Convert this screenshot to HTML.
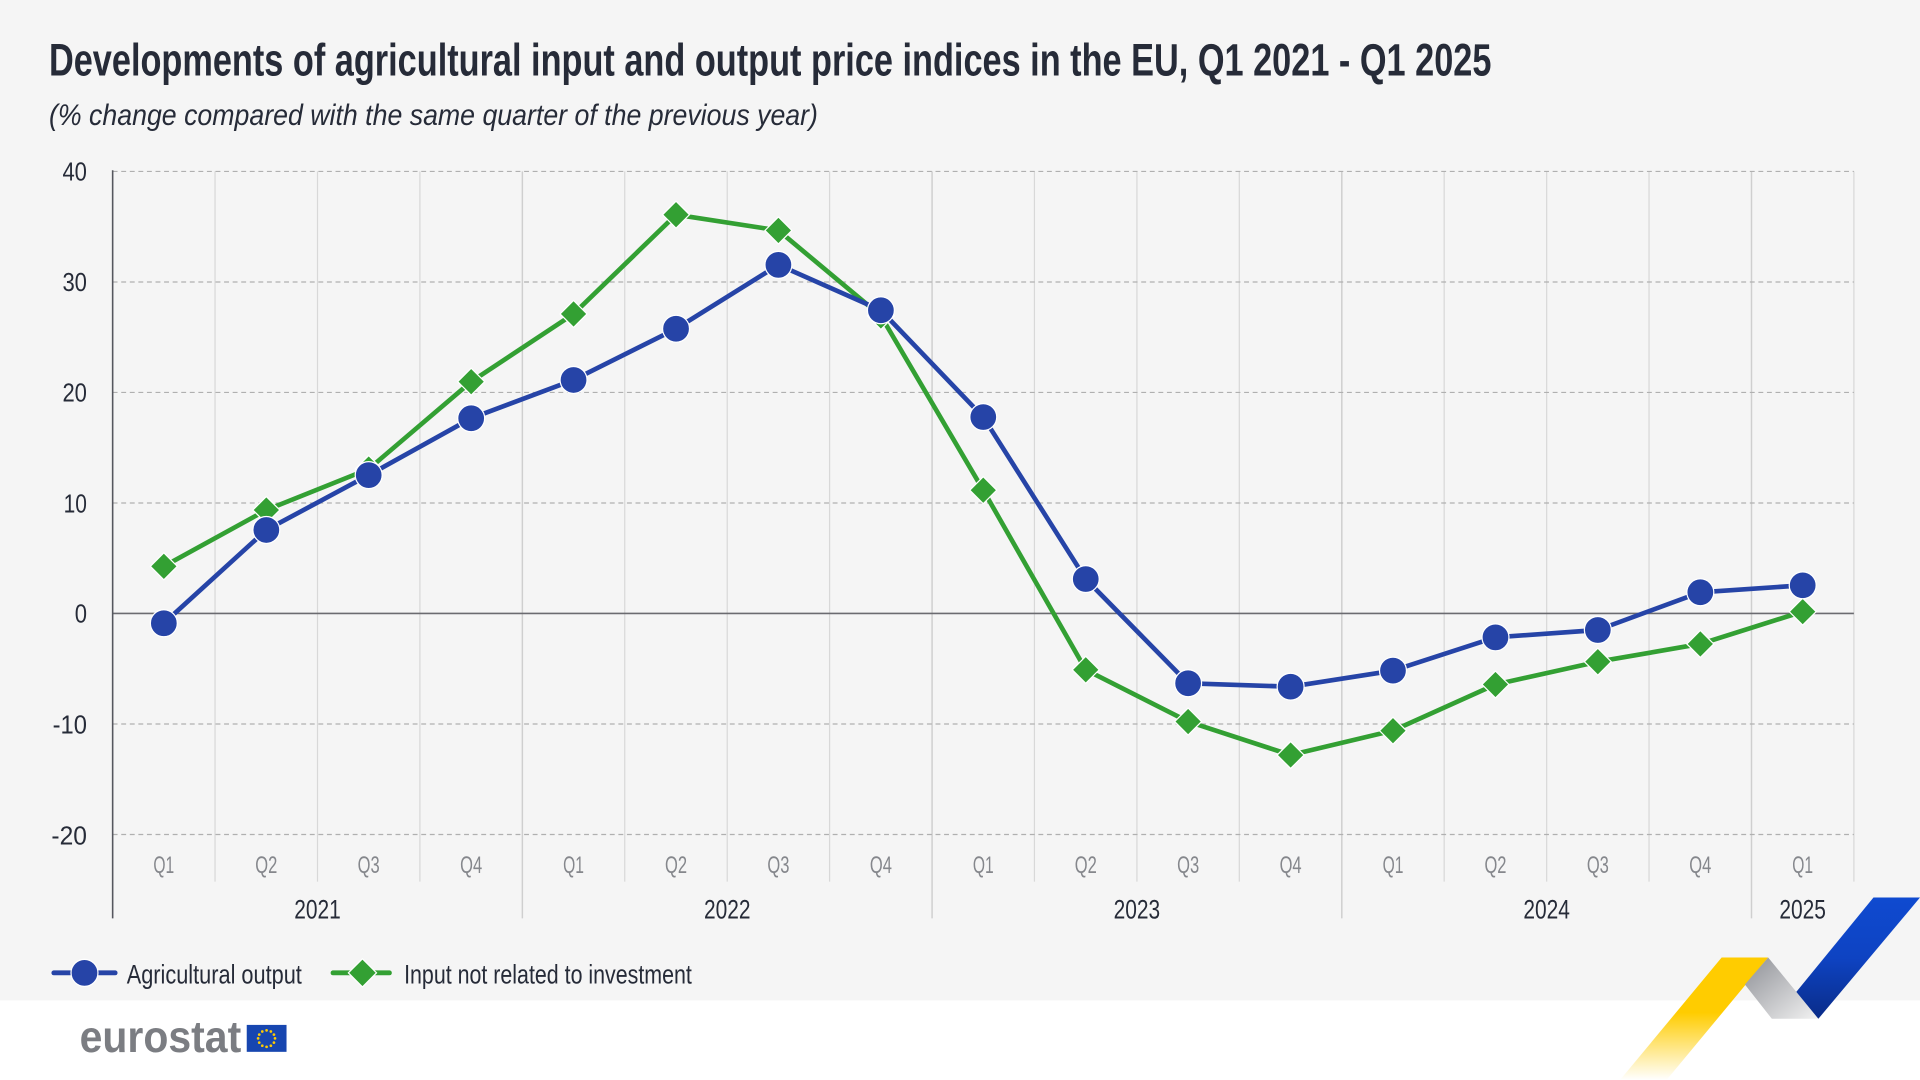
<!DOCTYPE html>
<html><head><meta charset="utf-8"><style>
html,body{margin:0;padding:0;background:#fff;}
svg{display:block;}
text{font-family:"Liberation Sans Narrow","Liberation Sans",sans-serif;}
</style></head><body>
<svg width="1920" height="1080" viewBox="0 0 1568 882" xmlns="http://www.w3.org/2000/svg">
<defs>
<linearGradient id="gy" x1="0" y1="0" x2="0" y2="1"><stop offset="0" stop-color="#ffcc00"/><stop offset="0.45" stop-color="#ffcc00"/><stop offset="1" stop-color="#ffffff"/></linearGradient>
<linearGradient id="gg" x1="0" y1="0" x2="1" y2="1"><stop offset="0" stop-color="#8e9096"/><stop offset="1" stop-color="#f2f2f2"/></linearGradient>
<linearGradient id="gb" x1="0" y1="0" x2="0" y2="1"><stop offset="0" stop-color="#0f4ad0"/><stop offset="0.5" stop-color="#0e43c2"/><stop offset="1" stop-color="#0a2c88"/></linearGradient>
</defs>
<rect x="0" y="0" width="1568" height="817" fill="#f5f5f5"/>
<rect x="0" y="817" width="1568" height="65" fill="#ffffff"/>

<text x="40" y="61.5" font-size="37" font-weight="bold" fill="#262b38" textLength="1178" lengthAdjust="spacingAndGlyphs">Developments of agricultural input and output price indices in the EU, Q1 2021 - Q1 2025</text>
<text x="40" y="102" font-size="24" font-style="italic" fill="#262b38" textLength="628" lengthAdjust="spacingAndGlyphs">(% change compared with the same quarter of the previous year)</text>

<!-- vertical gridlines -->
<g stroke="#d8d8d8" stroke-width="1">
<line x1="175.6" y1="140" x2="175.6" y2="720"/>
<line x1="259.3" y1="140" x2="259.3" y2="720"/>
<line x1="342.9" y1="140" x2="342.9" y2="720"/>
<line x1="510.2" y1="140" x2="510.2" y2="720"/>
<line x1="593.9" y1="140" x2="593.9" y2="720"/>
<line x1="677.5" y1="140" x2="677.5" y2="720"/>
<line x1="844.8" y1="140" x2="844.8" y2="720"/>
<line x1="928.5" y1="140" x2="928.5" y2="720"/>
<line x1="1012.1" y1="140" x2="1012.1" y2="720"/>
<line x1="1179.4" y1="140" x2="1179.4" y2="720"/>
<line x1="1263.1" y1="140" x2="1263.1" y2="720"/>
<line x1="1346.7" y1="140" x2="1346.7" y2="720"/>
<line x1="1514" y1="140" x2="1514" y2="720"/>
</g>
<g stroke="#cfcfcf" stroke-width="1.2">
<line x1="426.6" y1="140" x2="426.6" y2="750"/>
<line x1="761.2" y1="140" x2="761.2" y2="750"/>
<line x1="1095.8" y1="140" x2="1095.8" y2="750"/>
<line x1="1430.4" y1="140" x2="1430.4" y2="750"/>
</g>
<!-- horizontal gridlines -->
<g stroke="#b0b0b0" stroke-width="1" stroke-dasharray="4,3">
<line x1="92" y1="140" x2="1514" y2="140"/>
<line x1="92" y1="230.3" x2="1514" y2="230.3"/>
<line x1="92" y1="320.5" x2="1514" y2="320.5"/>
<line x1="92" y1="410.8" x2="1514" y2="410.8"/>
<line x1="92" y1="591.3" x2="1514" y2="591.3"/>
<line x1="92" y1="681.5" x2="1514" y2="681.5"/>
</g>
<line x1="92" y1="501" x2="1514" y2="501" stroke="#6b6b70" stroke-width="1.3"/>
<line x1="92" y1="139" x2="92" y2="750" stroke="#55575e" stroke-width="1.3"/>

<!-- y labels -->
<g font-size="21" fill="#262b38" text-anchor="end">
<text x="71" y="147.5" textLength="20" lengthAdjust="spacingAndGlyphs">40</text>
<text x="71" y="237.5" textLength="20" lengthAdjust="spacingAndGlyphs">30</text>
<text x="71" y="328" textLength="20" lengthAdjust="spacingAndGlyphs">20</text>
<text x="71" y="418.5" textLength="19" lengthAdjust="spacingAndGlyphs">10</text>
<text x="71" y="508.5" textLength="10" lengthAdjust="spacingAndGlyphs">0</text>
<text x="71" y="599" textLength="28" lengthAdjust="spacingAndGlyphs">-10</text>
<text x="71" y="689.5" textLength="29" lengthAdjust="spacingAndGlyphs">-20</text>
</g>
<!-- quarter labels -->
<g font-size="19.5" fill="#85878c" text-anchor="middle">
<text x="133.8" y="713" textLength="17" lengthAdjust="spacingAndGlyphs">Q1</text><text x="217.5" y="713" textLength="18" lengthAdjust="spacingAndGlyphs">Q2</text><text x="301.1" y="713" textLength="18" lengthAdjust="spacingAndGlyphs">Q3</text><text x="384.8" y="713" textLength="18" lengthAdjust="spacingAndGlyphs">Q4</text>
<text x="468.4" y="713" textLength="17" lengthAdjust="spacingAndGlyphs">Q1</text><text x="552.1" y="713" textLength="18" lengthAdjust="spacingAndGlyphs">Q2</text><text x="635.7" y="713" textLength="18" lengthAdjust="spacingAndGlyphs">Q3</text><text x="719.4" y="713" textLength="18" lengthAdjust="spacingAndGlyphs">Q4</text>
<text x="803.0" y="713" textLength="17" lengthAdjust="spacingAndGlyphs">Q1</text><text x="886.7" y="713" textLength="18" lengthAdjust="spacingAndGlyphs">Q2</text><text x="970.3" y="713" textLength="18" lengthAdjust="spacingAndGlyphs">Q3</text><text x="1054.0" y="713" textLength="18" lengthAdjust="spacingAndGlyphs">Q4</text>
<text x="1137.6" y="713" textLength="17" lengthAdjust="spacingAndGlyphs">Q1</text><text x="1221.3" y="713" textLength="18" lengthAdjust="spacingAndGlyphs">Q2</text><text x="1304.9" y="713" textLength="18" lengthAdjust="spacingAndGlyphs">Q3</text><text x="1388.6" y="713" textLength="18" lengthAdjust="spacingAndGlyphs">Q4</text>
<text x="1472.2" y="713" textLength="17" lengthAdjust="spacingAndGlyphs">Q1</text>
</g>
<g font-size="22" fill="#262b38" text-anchor="middle">
<text x="259.3" y="750" textLength="38" lengthAdjust="spacingAndGlyphs">2021</text>
<text x="593.9" y="750" textLength="38" lengthAdjust="spacingAndGlyphs">2022</text>
<text x="928.5" y="750" textLength="38" lengthAdjust="spacingAndGlyphs">2023</text>
<text x="1263.1" y="750" textLength="38" lengthAdjust="spacingAndGlyphs">2024</text>
<text x="1472.2" y="750" textLength="38" lengthAdjust="spacingAndGlyphs">2025</text>
</g>

<!-- green series -->
<polyline fill="none" stroke="#33a033" stroke-width="3.8" stroke-linejoin="round" points="133.8,462.5 217.5,416.5 301.1,383 384.8,311.7 468.4,256.4 552.1,175.3 635.7,188.2 719.4,258 803.0,400.3 886.7,547 970.3,589.3 1054.0,616.6 1137.6,596.7 1221.3,559 1304.9,540.4 1388.6,525.9 1472.2,499.5"/>
<g fill="#33a033" stroke="#ffffff" stroke-width="1">
<path d="M133.8,451.5 l11,11 -11,11 -11,-11z"/>
<path d="M217.5,405.5 l11,11 -11,11 -11,-11z"/>
<path d="M301.1,372 l11,11 -11,11 -11,-11z"/>
<path d="M384.8,300.7 l11,11 -11,11 -11,-11z"/>
<path d="M468.4,245.4 l11,11 -11,11 -11,-11z"/>
<path d="M552.1,164.3 l11,11 -11,11 -11,-11z"/>
<path d="M635.7,177.2 l11,11 -11,11 -11,-11z"/>
<path d="M719.4,247 l11,11 -11,11 -11,-11z"/>
<path d="M803.0,389.3 l11,11 -11,11 -11,-11z"/>
<path d="M886.7,536 l11,11 -11,11 -11,-11z"/>
<path d="M970.3,578.3 l11,11 -11,11 -11,-11z"/>
<path d="M1054.0,605.6 l11,11 -11,11 -11,-11z"/>
<path d="M1137.6,585.7 l11,11 -11,11 -11,-11z"/>
<path d="M1221.3,548 l11,11 -11,11 -11,-11z"/>
<path d="M1304.9,529.4 l11,11 -11,11 -11,-11z"/>
<path d="M1388.6,514.9 l11,11 -11,11 -11,-11z"/>
<path d="M1472.2,488.5 l11,11 -11,11 -11,-11z"/>
</g>
<!-- blue series -->
<polyline fill="none" stroke="#2644a7" stroke-width="3.8" stroke-linejoin="round" points="133.8,509 217.5,432.8 301.1,388 384.8,341.6 468.4,310.3 552.1,268.5 635.7,216.3 719.4,253.4 803.0,340.6 886.7,472.9 970.3,558 1054.0,560.8 1137.6,547.7 1221.3,520.5 1304.9,514.5 1388.6,483.7 1472.2,478"/>
<g fill="#2644a7" stroke="#ffffff" stroke-width="1">
<circle cx="133.8" cy="509" r="11"/>
<circle cx="217.5" cy="432.8" r="11"/>
<circle cx="301.1" cy="388" r="11"/>
<circle cx="384.8" cy="341.6" r="11"/>
<circle cx="468.4" cy="310.3" r="11"/>
<circle cx="552.1" cy="268.5" r="11"/>
<circle cx="635.7" cy="216.3" r="11"/>
<circle cx="719.4" cy="253.4" r="11"/>
<circle cx="803.0" cy="340.6" r="11"/>
<circle cx="886.7" cy="472.9" r="11"/>
<circle cx="970.3" cy="558" r="11"/>
<circle cx="1054.0" cy="560.8" r="11"/>
<circle cx="1137.6" cy="547.7" r="11"/>
<circle cx="1221.3" cy="520.5" r="11"/>
<circle cx="1304.9" cy="514.5" r="11"/>
<circle cx="1388.6" cy="483.7" r="11"/>
<circle cx="1472.2" cy="478" r="11"/>
</g>

<!-- legend -->
<line x1="44" y1="794.5" x2="94" y2="794.5" stroke="#2644a7" stroke-width="4" stroke-linecap="round"/>
<circle cx="69" cy="794.5" r="11" fill="#2644a7" stroke="#ffffff" stroke-width="1"/>
<text x="103.5" y="803" font-size="22" fill="#262b38" textLength="143" lengthAdjust="spacingAndGlyphs">Agricultural output</text>
<line x1="272" y1="794.5" x2="318" y2="794.5" stroke="#33a033" stroke-width="4" stroke-linecap="round"/>
<path d="M296,783 l11.5,11.5 -11.5,11.5 -11.5,-11.5z" fill="#33a033" stroke="#ffffff" stroke-width="1"/>
<text x="330" y="803" font-size="22" fill="#262b38" textLength="235" lengthAdjust="spacingAndGlyphs">Input not related to investment</text>

<!-- eurostat logo -->
<text x="65" y="859" font-family="Liberation Sans, sans-serif" font-size="36" font-weight="bold" fill="#7b7d82" textLength="132" lengthAdjust="spacingAndGlyphs">eurostat</text>
<rect x="201.5" y="837" width="32.5" height="22" fill="#1746b0"/>
<g fill="#ffcc00">
<circle cx="217.7" cy="841.5" r="1.1"/><circle cx="221.2" cy="842.4" r="1.1"/><circle cx="223.7" cy="844.9" r="1.1"/>
<circle cx="224.6" cy="848" r="1.1"/><circle cx="223.7" cy="851.5" r="1.1"/><circle cx="221.2" cy="854" r="1.1"/>
<circle cx="217.7" cy="854.9" r="1.1"/><circle cx="214.2" cy="854" r="1.1"/><circle cx="211.7" cy="851.5" r="1.1"/>
<circle cx="210.8" cy="848" r="1.1"/><circle cx="211.7" cy="844.9" r="1.1"/><circle cx="214.2" cy="842.4" r="1.1"/>
</g>

<!-- ribbon -->
<polygon points="1406,782 1444,782 1361,882 1323,882" fill="url(#gy)"/>
<polygon points="1425,804 1444,782 1485,832 1447,832" fill="url(#gg)"/>
<polygon points="1467,810 1530,733 1568,733 1485,832" fill="url(#gb)"/>
</svg>
</body></html>
